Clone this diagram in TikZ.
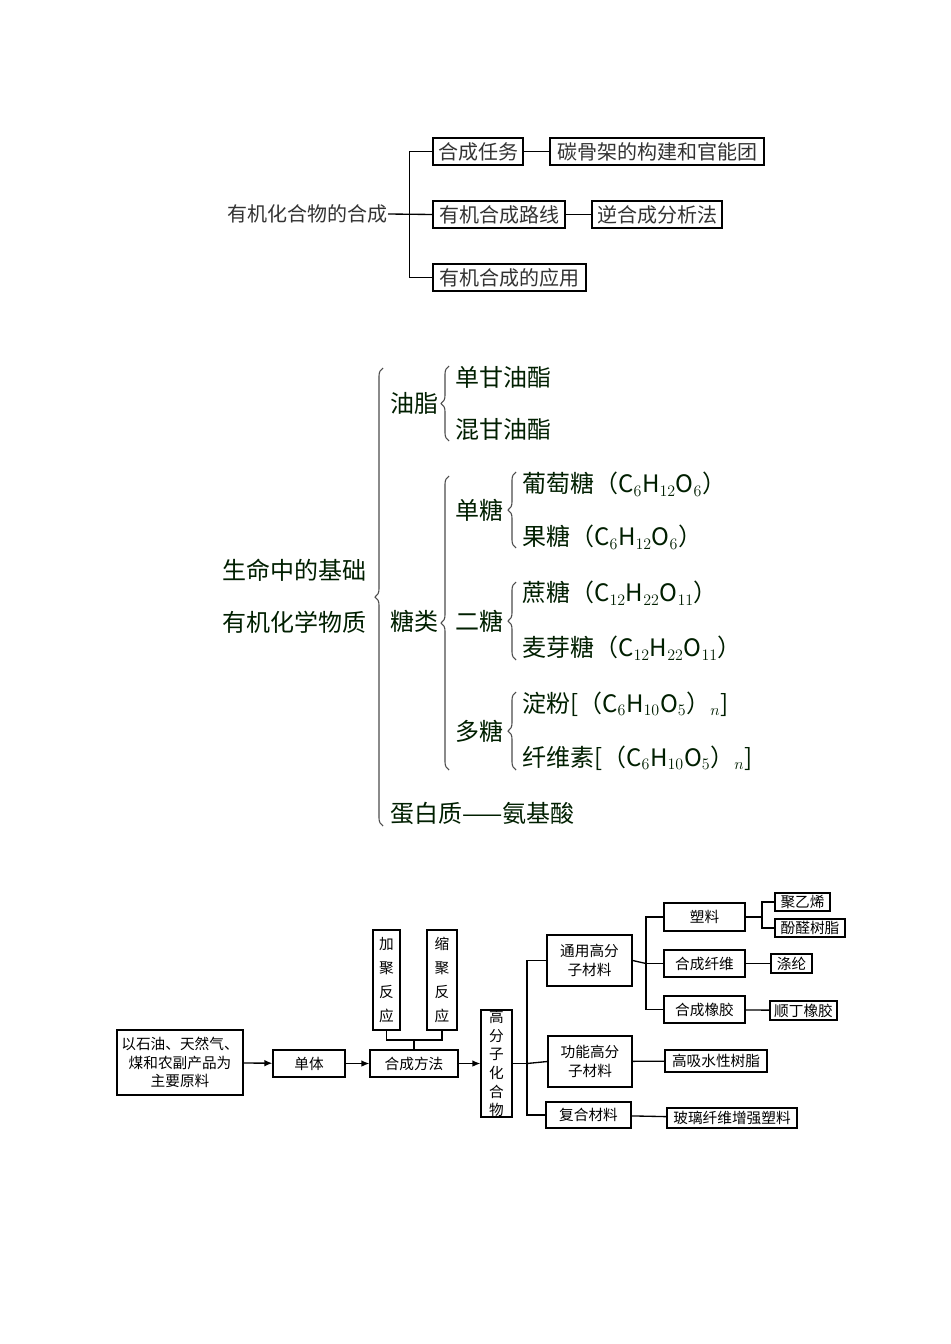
\documentclass[tikz,border=0pt]{standalone}
\usepackage{fontspec}
\setmainfont{Noto Sans CJK SC}
\usetikzlibrary{decorations.pathreplacing,arrows.meta}
\begin{document}
\begin{tikzpicture}[x=0.75pt,y=-0.75pt,
  bx/.style 2 args={draw,line width=1pt,inner sep=0,minimum width=#1*0.75pt,minimum height=#2*0.75pt},
  t1/.style={font=\fontsize{15pt}{17pt}\selectfont,text=black!80},
  t2/.style={font=\fontsize{18pt}{20pt}\selectfont,text=black!80!green!60!black,inner sep=0,anchor=west},
  t3/.style={font=\fontsize{11pt}{14pt}\selectfont,align=center},
  tv/.style={font=\fontsize{11pt}{18pt}\selectfont,align=center},
  ln/.style={line width=1pt},
  ar/.style={line width=1pt,-{Latex[length=6pt,width=5pt]}},
  br/.style={decorate,decoration={brace,amplitude=6pt},line width=0.8pt,black!70}]
\fill[white] (0,0) rectangle (950,1344);
% ---------- section 1
\node[t1,anchor=east,inner sep=0] (s1) at (388,214) {有机化合物的合成};
\node[t1,bx={90}{27}] (a1) at (478,151.5) {合成任务};
\node[t1,bx={214}{27}] (a2) at (657,151.5) {碳骨架的构建和官能团};
\node[t1,bx={132}{27}] (b1) at (499,214.5) {有机合成路线};
\node[t1,bx={130}{27}] (b2) at (657,214.5) {逆合成分析法};
\node[t1,bx={153}{27}] (c1) at (509.5,277.5) {有机合成的应用};
\draw[ln] (s1.east) -- (b1.west);
\draw[ln] (a1.west) -- ++(-23,0) |- (c1.west);
\draw[ln] (a1) -- (a2);
\draw[ln] (b1) -- (b2);
% ---------- section 2
\node[t2] (m1) at (222,570) {生命中的基础};
\node[t2] (m2) at (222,622) {有机化学物质};
\node[t2] (yz) at (390,403) {油脂};
\node[t2] (y1) at (455,377) {单甘油酯};
\node[t2] (y2) at (455,429) {混甘油酯};
\node[t2] (tl) at (390,621) {糖类};
\node[t2] (d) at (455,510) {单糖};
\node[t2] (d1) at (522,484) {葡萄糖（C$_6$H$_{12}$O$_6$）};
\node[t2] (d2) at (522,537) {果糖（C$_6$H$_{12}$O$_6$）};
\node[t2] (e) at (455,621) {二糖};
\node[t2] (e1) at (522,593) {蔗糖（C$_{12}$H$_{22}$O$_{11}$）};
\node[t2] (e2) at (522,648) {麦芽糖（C$_{12}$H$_{22}$O$_{11}$）};
\node[t2] (f) at (455,731) {多糖};
\node[t2] (f1) at (522,704) {淀粉[（C$_6$H$_{10}$O$_5$）$_n$]};
\node[t2] (f2) at (522,758) {纤维素[（C$_6$H$_{10}$O$_5$）$_n$]};
\node[t2] (dbz) at (390,813) {蛋白质——氨基酸};
\draw[br] (383,826) -- (383,368);
\draw[br] (449,441) -- (449,366);
\draw[br] (449,770) -- (449,476);
\draw[br] (516,548) -- (516,472);
\draw[br] (516,660) -- (516,582);
\draw[br] (516,770) -- (516,692);
% ---------- section 3
\node[t3,bx={126}{65}] (raw) at (180,1062.5) {以石油、天然气、\\煤和农副产品为\\主要原料};
\node[t3,bx={72}{27}] (dt) at (309,1063.5) {单体};
\node[t3,bx={88}{27}] (hf) at (414,1063.5) {合成方法};
\node[tv,bx={27}{100}] (jj) at (386.5,980) {加\\聚\\反\\应};
\node[tv,bx={30}{100}] (sj) at (442,980) {缩\\聚\\反\\应};
\node[t3,bx={31}{103}] (gf) at (496.5,1063.5) {高\\分\\子\\化\\合\\物};
\node[t3,bx={85}{51}] (ty) at (589.5,960.5) {通用高分\\子材料};
\node[t3,bx={84}{51}] (gn) at (590,1061.5) {功能高分\\子材料};
\node[t3,bx={85}{26}] (fh) at (588.5,1115) {复合材料};
\node[t3,bx={81}{28}] (sl) at (704.5,917) {塑料};
\node[t3,bx={81}{27}] (xw) at (704.5,963.5) {合成纤维};
\node[t3,bx={81}{27}] (xj) at (704.5,1009.5) {合成橡胶};
\node[t3,bx={55}{18}] (jy) at (802.5,902) {聚乙烯};
\node[t3,bx={70}{18}] (fq) at (810,928) {酚醛树脂};
\node[t3,bx={41}{19}] (dl) at (791.5,963.5) {涤纶};
\node[t3,bx={67}{19}] (sd) at (803.5,1010.5) {顺丁橡胶};
\node[t3,bx={102}{22}] (gx) at (716,1061) {高吸水性树脂};
\node[t3,bx={130}{20}] (bl) at (732,1118) {玻璃纤维增强塑料};
\draw[ar] (raw) -- (dt);
\draw[ar] (dt) -- (hf);
\draw[ar] (hf) -- (gf);
\draw[ln] (jj.south) |- (414,1040) -| (sj.south);
\draw[ln] (414,1040) -- (hf.north);
\coordinate (k1) at (527,1063.5);
\draw[ln] (gf.east) -- (k1);
\draw[ln] (ty.west) -| (k1) |- (fh.west);
\draw[ln] (k1) -- (gn.west);
\coordinate (k2) at (646,963.5);
\draw[ln] (ty.east) -- (k2);
\draw[ln] (sl.west) -| (k2) |- (xj.west);
\draw[ln] (k2) -- (xw.west);
\draw[ln] (sl.east) -- (762,917);
\draw[ln] (jy.west) -| (762,917) |- (fq.west);
\draw[ln] (xw) -- (dl);
\draw[ln] (xj) -- (sd);
\draw[ln] (gn) -- (gx);
\draw[ln] (fh) -- (bl);
\end{tikzpicture}
\end{document}
